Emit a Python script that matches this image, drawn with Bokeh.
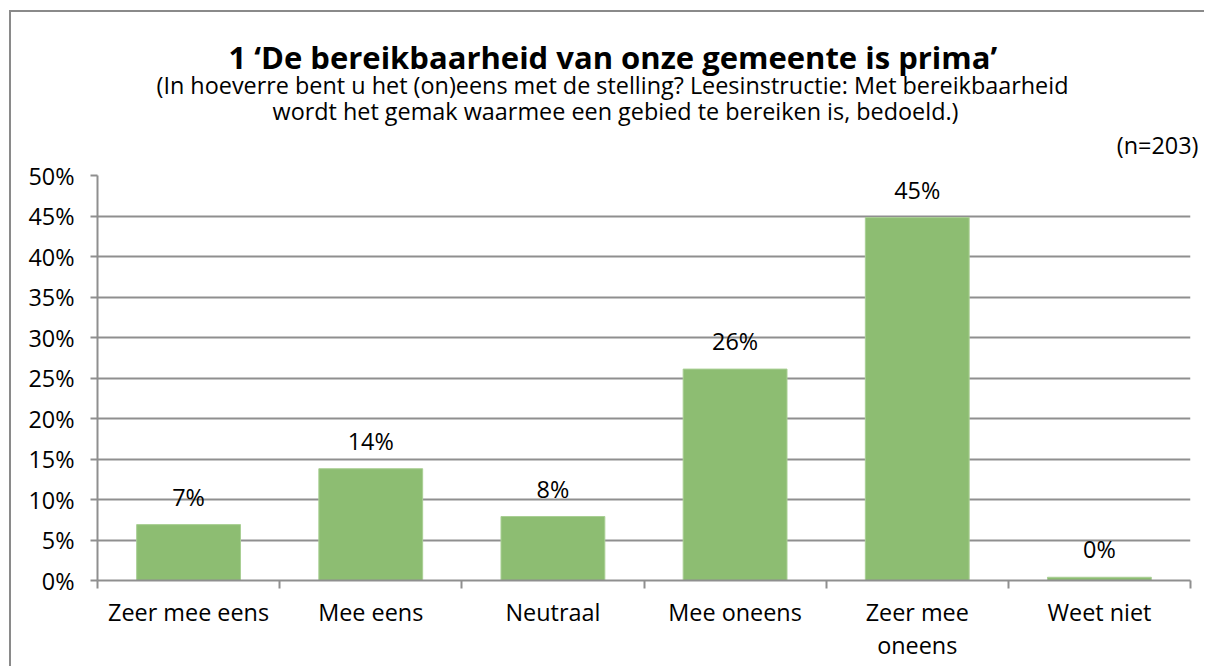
from bokeh.plotting import figure
from bokeh.models import (Range1d, FixedTicker, LabelSet, ColumnDataSource, Title)
from bokeh.core.properties import value
from bokeh.embed import file_html
from bokeh.resources import INLINE

# ---- data ----
categories = ["Zeer mee eens", "Mee eens", "Neutraal", "Mee oneens", "Zeer mee\noneens", "Weet niet"]
values = [6.9, 13.8, 7.9, 26.1, 44.8, 0.4]
value_labels = ["7%", "14%", "8%", "26%", "45%", "0%"]
y_ticks = [0, 5, 10, 15, 20, 25, 30, 35, 40, 45, 50]
y_tick_labels = ["0%", "5%", "10%", "15%", "20%", "25%", "30%", "35%", "40%", "45%", "50%"]
title_text = "1 \u2018De bereikbaarheid van onze gemeente is prima\u2019"
subtitle_1 = "(In hoeverre bent u het (on)eens met de stelling? Leesinstructie: Met bereikbaarheid"
subtitle_2 = "wordt het gemak waarmee een gebied te bereiken is, bedoeld.)"
n_text = "(n=203)"

FONT = "Open Sans"
FS = "23.4px"
GRID = "#8f8f8f"
BAR = "#8dbd72"

x_pos = [i + 0.5 for i in range(len(categories))]
src = ColumnDataSource(dict(x=x_pos, top=values, lab=value_labels))

p = figure(width=1195, height=656, output_backend="svg", toolbar_location=None,
           x_range=Range1d(0, len(categories)), y_range=Range1d(0, 50),
           min_border_left=86, min_border_right=16, min_border_top=163, min_border_bottom=88)
p.margin = (10, 0, 0, 9)
p.outline_line_color = None
p.background_fill_color = "white"
p.border_fill_color = "white"
p.styles = {"border-left": "2px solid #8a8a8a", "border-top": "2px solid #8a8a8a"}

p.vbar(x="x", top="top", width=0.57, source=src, fill_color=BAR,
       line_color="#a9cf94", line_width=1)

labels = LabelSet(x="x", y="top", text="lab", source=src, y_offset=19,
                  text_align="center", text_baseline="alphabetic",
                  text_font=value(FONT), text_font_size=FS, text_color="black")
p.add_layout(labels)

# y axis
p.yaxis.ticker = FixedTicker(ticks=y_ticks)
p.yaxis.major_label_overrides = {t: l for t, l in zip(y_ticks, y_tick_labels)}
p.yaxis.major_tick_out = 7
p.yaxis.major_tick_in = 0
p.yaxis.minor_tick_line_color = None
p.yaxis.axis_line_color = GRID
p.yaxis.axis_line_width = 2
p.yaxis.major_tick_line_color = GRID
p.yaxis.major_tick_line_width = 2
p.yaxis.major_label_text_font = FONT
p.yaxis.major_label_text_font_size = FS
p.yaxis.major_label_text_color = "black"
p.yaxis.major_label_standoff = 16

p.ygrid.ticker = FixedTicker(ticks=y_ticks)
p.ygrid.grid_line_color = GRID
p.ygrid.grid_line_width = 2
p.xgrid.visible = False

# x axis
p.xaxis.ticker = FixedTicker(ticks=x_pos, minor_ticks=list(range(len(categories) + 1)))
p.xaxis.major_label_overrides = {x: c for x, c in zip(x_pos, categories)}
p.xaxis.major_tick_out = 0
p.xaxis.major_tick_in = 0
p.xaxis.minor_tick_out = 8
p.xaxis.minor_tick_in = 0
p.xaxis.minor_tick_line_color = GRID
p.xaxis.minor_tick_line_width = 2
p.xaxis.axis_line_color = GRID
p.xaxis.axis_line_width = 2
p.xaxis.major_label_text_font = FONT
p.xaxis.major_label_text_font_size = FS
p.xaxis.major_label_text_color = "black"
p.xaxis.major_label_text_line_height = 1.035
p.xaxis.major_label_standoff = 7

# titles (stacked upward from the plot area)
p.title = None
p.add_layout(Title(text=" ", text_font=FONT, text_font_size="9.5px", standoff=0), "above")
p.add_layout(Title(text=n_text, align="right", offset=-8, text_font=FONT,
                   text_font_size=FS, text_font_style="normal",
                   text_color="black", standoff=0), "above")
p.add_layout(Title(text=subtitle_2, align="left", offset=175, text_font=FONT,
                   text_font_size=FS, text_font_style="normal",
                   text_color="black", standoff=-1), "above")
p.add_layout(Title(text=subtitle_1, align="left", offset=59, text_font=FONT,
                   text_font_size=FS, text_font_style="normal",
                   text_color="black", standoff=-15), "above")
p.add_layout(Title(text=title_text, align="left", offset=131, text_font=FONT,
                   text_font_size="31px", text_font_style="bold",
                   text_color="black", standoff=-7), "above")

open("out.html", "w").write(file_html(p, INLINE))
